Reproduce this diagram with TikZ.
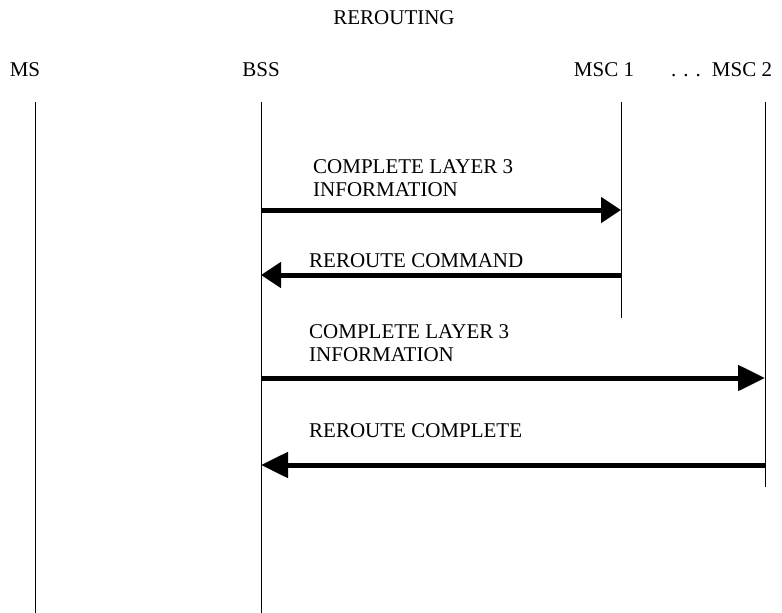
\documentclass[tikz,border=0pt]{standalone}
\usepackage{fontspec}
\setmainfont{Liberation Serif}
\usetikzlibrary{arrows.meta}
\begin{document}
\begin{tikzpicture}[x=1pt,y=-1pt,
  txt/.style={font=\fontsize{21}{23}\selectfont, inner sep=0pt},
  lbl/.style={txt, anchor=north west, align=left},
  hdr/.style={txt, anchor=base},
  life/.style={line width=1pt},
  msg/.style={line width=5pt, -{Triangle[length=20pt,width=25pt]}},
  bigmsg/.style={line width=5pt, -{Triangle[length=27pt,width=25pt]}}]
\useasboundingbox (0,0) rectangle (782,613);
% title and headers
\node[hdr] (title) at (394,24) {REROUTING};
\node[hdr] (ms) at (25,76) {MS};
\node[hdr] (bss) at (261,76) {BSS};
\node[hdr] (msc1) at (604,76) {MSC 1};
\node[hdr] (dots) at (686,76) {. . .};
\node[hdr] (msc2) at (742,76) {MSC 2};
% lifelines
\coordinate (msT) at (35,102);   \coordinate (msB) at (35,613);
\coordinate (bssT) at (261,102); \coordinate (bssB) at (261,613);
\coordinate (m1T) at (621,102);  \coordinate (m1B) at (621,318);
\coordinate (m2T) at (765,102);  \coordinate (m2B) at (765,487);
\draw[life] (msT) -- (msB);
\draw[life] (bssT) -- (bssB);
\draw[life] (m1T) -- (m1B);
\draw[life] (m2T) -- (m2B);
% message anchor points
\coordinate (a1s) at (261,210); \coordinate (a1e) at (621,210);
\coordinate (a2s) at (621,275); \coordinate (a2e) at (261,275);
\coordinate (a3s) at (261,378); \coordinate (a3e) at (765,378);
\coordinate (a4s) at (765,465); \coordinate (a4e) at (261,465);
% messages
\draw[msg] (a1s) -- (a1e);
\node[lbl] (l1) at (313,159) {COMPLETE LAYER 3\\INFORMATION};
\draw[msg] (a2s) -- (a2e);
\node[lbl] (l2) at (309,253) {REROUTE COMMAND};
\draw[bigmsg] (a3s) -- (a3e);
\node[lbl] (l3) at (309,324) {COMPLETE LAYER 3\\INFORMATION};
\draw[bigmsg] (a4s) -- (a4e);
\node[lbl] (l4) at (309,423) {REROUTE COMPLETE};
\end{tikzpicture}
\end{document}
